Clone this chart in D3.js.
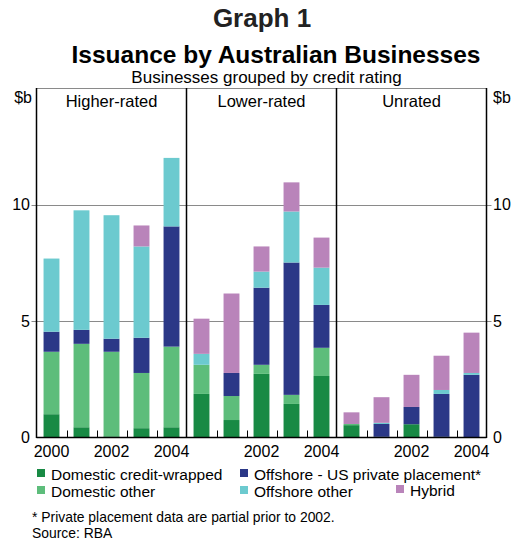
<!DOCTYPE html>
<html><head><meta charset="utf-8">
<script src="https://cdn.jsdelivr.net/npm/d3@7/dist/d3.min.js"></script>
<style>
html,body{margin:0;padding:0;background:#fff;}
svg{display:block;font-family:"Liberation Sans",Arial,sans-serif;}
</style></head>
<body><svg id="chart" width="518" height="544"></svg>
<script>
// ---- data ----
const panels = ["Higher-rated", "Lower-rated", "Unrated"];
const years = ["2000", "2001", "2002", "2003", "2004"];
const yearLabels = [["2000", "2002", "2004"], ["2002", "2004"], ["2002", "2004"]];
const seriesNames = ["Domestic credit-wrapped", "Domestic other", "Offshore - US private placement*", "Offshore other", "Hybrid"];
const seriesColors = ["#188a44", "#5dbd7b", "#2b3887", "#6ccacf", "#b984ba"];
// values in $b, per panel: [2000..2004]
const domesticCreditWrapped = [[1.0, 0.44, 0.05, 0.4, 0.44], [1.87, 0.75, 2.73, 1.44, 2.64], [0.53, 0.0, 0.57, 0.03, 0.0]];
const domesticOther = [[2.68, 3.58, 3.63, 2.37, 3.46], [1.25, 1.03, 0.39, 0.39, 1.21], [0.05, 0.03, 0.0, 0.0, 0.0]];
const offshoreUSPP = [[0.86, 0.6, 0.56, 1.51, 5.16], [0.0, 0.99, 3.31, 5.68, 1.84], [0.0, 0.55, 0.74, 1.84, 2.69]];
const offshoreOther = [[3.14, 5.13, 5.3, 3.92, 2.94], [0.47, 0.0, 0.69, 2.19, 1.6], [0.0, 0.05, 0.0, 0.17, 0.08]];
const hybrid = [[0.0, 0.0, 0.0, 0.9, 0.0], [1.51, 3.41, 1.08, 1.25, 1.29], [0.5, 1.1, 1.38, 1.47, 1.73]];
const yTicks = [0, 5, 10];

const seriesData = [domesticCreditWrapped, domesticOther, offshoreUSPP, offshoreOther, hybrid];

// ---- layout ----
const L = 36.5, R = 486.5, T = 88, B = 437.5;
const svg = d3.select("#chart");

const y = d3.scaleLinear().domain([0, 15]).range([B, T]);
const px = d3.scaleBand().domain(panels).range([L, R]).padding(0);
const bx = d3.scaleBand().domain(years).range([0, px.bandwidth()]).paddingInner(0.47).paddingOuter(0.235);

// titles
svg.append("text").attr("x", 262).attr("y", 27).attr("text-anchor", "middle")
  .attr("font-size", 26).attr("font-weight", "bold").attr("fill", "#222").text("Graph 1");
svg.append("text").attr("x", 276).attr("y", 63).attr("text-anchor", "middle")
  .attr("font-size", 24.5).attr("font-weight", "bold").attr("fill", "#000").text("Issuance by Australian Businesses");
svg.append("text").attr("x", 266.5).attr("y", 82.5).attr("text-anchor", "middle")
  .attr("font-size", 17).attr("fill", "#000").text("Businesses grouped by credit rating");

// gridlines
const grid = svg.append("g");
[5, 10, 15].forEach(v => {
  grid.append("line").attr("x1", L - (v < 15 ? 5 : 0)).attr("x2", R + (v < 15 ? 5 : 0))
    .attr("y1", Math.round(y(v)) + 0.5).attr("y2", Math.round(y(v)) + 0.5)
    .attr("stroke", "#8a8a8a").attr("stroke-width", 1);
});

// bars
panels.forEach((p, pi) => {
  const g = svg.append("g").attr("transform", `translate(${px(p)},0)`);
  years.forEach((yr, yi) => {
    let cum = 0;
    seriesData.forEach((s, si) => {
      const v = s[pi][yi];
      if (v > 0) {
        g.append("rect")
          .attr("x", bx(yr)).attr("width", bx.bandwidth())
          .attr("y", y(cum + v)).attr("height", y(cum) - y(cum + v))
          .attr("fill", seriesColors[si]);
      }
      cum += v;
    });
  });
  // inner ticks between bars
  years.slice(1).forEach(yr => {
    const xx = Math.round(px(p) + bx(yr) - bx.step() * bx.paddingInner() / 2) + 0.5;
    svg.append("line").attr("x1", xx).attr("x2", xx).attr("y1", B).attr("y2", B - 7)
      .attr("stroke", "#000").attr("stroke-width", 1);
  });
  // year labels
  yearLabels[pi].forEach(lbl => {
    svg.append("text").attr("x", px(p) + bx(lbl) + bx.bandwidth() / 2).attr("y", 457)
      .attr("text-anchor", "middle").attr("font-size", 16).text(lbl);
  });
  // panel label
  svg.append("text").attr("x", px(p) + px.bandwidth() / 2).attr("y", 107)
    .attr("text-anchor", "middle").attr("font-size", 16.5).text(p);
});

// frame: vertical panel dividers and bottom axis
const frame = svg.append("g").attr("stroke", "#000").attr("stroke-width", 1.5);
[L, px(panels[1]), px(panels[2]), R].forEach(xv => {
  frame.append("line").attr("x1", xv).attr("x2", xv).attr("y1", T).attr("y2", B + 0.5);
});
frame.append("line").attr("x1", L).attr("x2", R).attr("y1", B).attr("y2", B);

// y axis labels
yTicks.forEach(v => {
  svg.append("text").attr("x", 30).attr("y", y(v)).attr("dy", "0.36em")
    .attr("text-anchor", "end").attr("font-size", 16).text(v);
  svg.append("text").attr("x", 493).attr("y", y(v)).attr("dy", "0.36em")
    .attr("text-anchor", "start").attr("font-size", 16).text(v);
});
svg.append("text").attr("x", 32).attr("y", 103).attr("text-anchor", "end").attr("font-size", 16).text("$b");
svg.append("text").attr("x", 493).attr("y", 103).attr("text-anchor", "start").attr("font-size", 16).text("$b");

// legend
const legendPos = [[37, 480], [37, 497], [240, 480], [240, 497], [396, 496]];
seriesNames.forEach((n, i) => {
  const [lx, ly] = legendPos[i];
  svg.append("rect").attr("x", lx).attr("y", ly - 11).attr("width", 8).attr("height", 8).attr("fill", seriesColors[i]);
  svg.append("text").attr("x", lx + 14).attr("y", ly).attr("font-size", 15.5).text(n);
});

// footnotes
svg.append("text").attr("x", 32).attr("y", 522).attr("font-size", 13.9).text("* Private placement data are partial prior to 2002.");
svg.append("text").attr("x", 32).attr("y", 538).attr("font-size", 13.9).text("Source: RBA");
</script>
</body></html>
